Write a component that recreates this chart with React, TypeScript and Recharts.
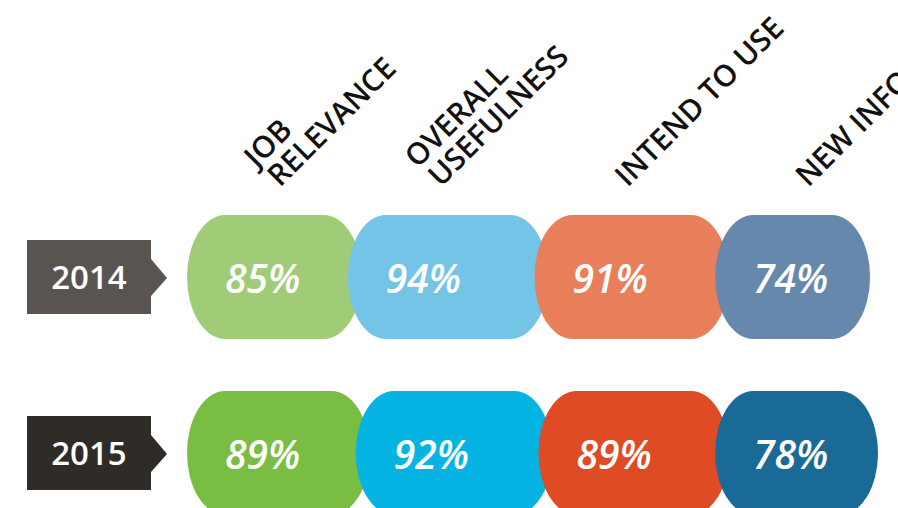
import React from 'react';
import { BarChart, Bar, XAxis, YAxis, LabelList } from 'recharts';

// ---- data ----
const years = ['2014', '2015'];
const categories = ['JOB RELEVANCE', 'OVERALL USEFULNESS', 'INTEND TO USE', 'NEW INFORMATION'];
const headerLines = [['JOB', 'RELEVANCE'], ['OVERALL', 'USEFULNESS'], ['INTEND TO USE'], ['NEW INFORMATION']];
const jobRelevance = [85, 89];
const overallUsefulness = [94, 92];
const intendToUse = [91, 89];
const newInformation = [74, 78];
const seriesKeys = ['jobRelevance', 'overallUsefulness', 'intendToUse', 'newInformation'];

// ---- styles ----
const yearColors = ['#595450', '#2f2b27'];
const seriesColors = [
  ['#a0cc78', '#7abd43'],
  ['#74c4e8', '#05b4e3'],
  ['#e87f5a', '#de4b25'],
  ['#6688ad', '#1a6a98'],
];
const FONT = '"Open Sans", "DejaVu Sans", sans-serif';

const rows = years.map((year, i) => ({
  year,
  jobRelevance: jobRelevance[i],
  overallUsefulness: overallUsefulness[i],
  intendToUse: intendToUse[i],
  newInformation: newInformation[i],
}));

const OVERLAP = 8;
const RX = 38;

function pillLeft(x: number, s: number) {
  return s === 0 ? x : x - OVERLAP;
}

function makeShape(s: number) {
  return (props: any) => {
    const { x, y, width, height, payload } = props;
    const row = years.indexOf(payload?.year);
    const fill = seriesColors[s][row < 0 ? 0 : row];
    const l = pillLeft(x, s);
    const r = s === seriesKeys.length - 1 ? x + width : x + width + 6;
    const ry = height / 2;
    const d = `M${l + RX},${y} H${r - RX} A${RX},${ry} 0 0 1 ${r - RX},${y + height} H${l + RX} A${RX},${ry} 0 0 1 ${l + RX},${y} Z`;
    return <path d={d} fill={fill} />;
  };
}

function makeLabel(s: number) {
  return (props: any) => {
    const { x, y, height, value, index } = props;
    const l = pillLeft(x, s);
    const cy = y + height / 2;
    const lines = headerLines[s];
    const hx = l + 93;
    const hy = 188;
    const lh = 30;
    return (
      <g>
        <text x={l + 38} y={cy + 16} fill="#ffffff" fontFamily={FONT} fontStyle="italic" fontWeight={600} fontSize={39}>
          {value}%
        </text>
        {index === 0 && (
          <text transform={`translate(${hx},${hy}) rotate(-45)`} fill="#111111" fontFamily={FONT} fontWeight={600} fontSize={30}>
            {lines.map((ln, k) => (
              <tspan key={k} x={k === lines.length - 1 ? 0 : -3} y={-(lines.length - 1 - k) * lh}>
                {ln}
              </tspan>
            ))}
          </text>
        )}
      </g>
    );
  };
}

const YearTick = (props: any) => {
  const { y, payload, index } = props;
  const i = years.indexOf(payload.value);
  const c = yearColors[i < 0 ? index : i];
  const pts = [
    [27, y - 37], [151, y - 37], [151, y - 18], [167, y + 1], [151, y + 19], [151, y + 37], [27, y + 37],
  ].map((p) => p.join(',')).join(' ');
  return (
    <g>
      <polygon points={pts} fill={c} />
      <text x={89} y={y + 12} textAnchor="middle" fill="#ffffff" fontFamily={FONT} fontWeight={600} fontSize={33}>
        {payload.value}
      </text>
    </g>
  );
};

export default function App() {
  return (
    <div style={{ position: 'absolute', left: 0, top: 0, width: 898, height: 508, overflow: 'hidden', background: '#ffffff' }}>
      <BarChart
        layout="vertical"
        width={898}
        height={560}
        data={rows}
        margin={{ top: 189, right: 16, bottom: 19, left: 0 }}
        barSize={124}
      >
        <XAxis type="number" domain={[0, 350]} hide />
        <YAxis type="category" dataKey="year" width={187} axisLine={false} tickLine={false} tick={<YearTick />} />
        {seriesKeys.map((k, s) => (
          <Bar key={k} dataKey={k} name={categories[s]} stackId="a" isAnimationActive={false} shape={makeShape(s)}>
            <LabelList dataKey={k} content={makeLabel(s)} />
          </Bar>
        ))}
      </BarChart>
    </div>
  );
}
